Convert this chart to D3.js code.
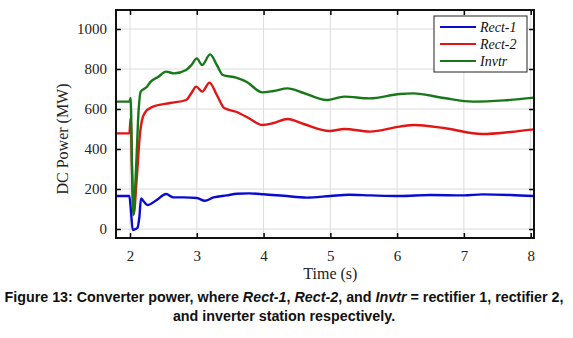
<!DOCTYPE html>
<html>
<head>
<meta charset="utf-8">
<script src="https://cdn.jsdelivr.net/npm/d3@7"></script>
<style>
  body { margin: 0; background: #fff; }
  svg { display: block; }
</style>
</head>
<body>
<svg width="573" height="338"></svg>
<script>
// series (time in s, power in MW)
var rect1Time  = [1.79, 1.99, 2.015, 2.04, 2.08, 2.11, 2.14, 2.165, 2.2, 2.26, 2.4, 2.54, 2.65, 2.8, 3.0, 3.12, 3.25, 3.45, 3.6, 3.78, 4.0, 4.3, 4.65, 5.0, 5.28, 5.6, 6.04, 6.5, 7.0, 7.28, 7.7, 8.05];
var rect1Power = [165, 165, 87, -5, 0, 5, 60, 153, 140, 120, 145, 175, 158, 158, 155, 141, 158, 168, 176, 178, 174, 166, 157, 165, 171, 168, 165, 170, 168, 173, 170, 165];

var rect2Time  = [1.79, 1.99, 2.01, 2.03, 2.055, 2.1, 2.15, 2.18, 2.22, 2.33, 2.6, 2.84, 2.92, 2.99, 3.08, 3.19, 3.3, 3.41, 3.6, 3.8, 3.98, 4.15, 4.36, 4.6, 4.99, 5.21, 5.59, 6.04, 6.26, 6.7, 7.28, 7.7, 8.05];
var rect2Power = [478, 478, 555, 300, 75, 250, 480, 545, 580, 610, 630, 645, 680, 712, 687, 732, 670, 605, 585, 550, 520, 530, 550, 525, 490, 500, 487, 512, 520, 505, 475, 485, 498];

var invtrTime  = [1.79, 1.99, 2.01, 2.03, 2.05, 2.09, 2.13, 2.16, 2.25, 2.31, 2.42, 2.54, 2.66, 2.84, 2.92, 3.0, 3.08, 3.2, 3.3, 3.39, 3.59, 3.75, 3.98, 4.15, 4.36, 4.6, 4.94, 5.21, 5.59, 6.04, 6.24, 6.7, 7.13, 7.6, 8.05];
var invtrPower = [637, 637, 655, 300, 70, 300, 600, 687, 710, 737, 760, 787, 778, 795, 820, 853, 820, 873, 820, 770, 757, 735, 683, 690, 703, 680, 645, 662, 653, 675, 678, 655, 637, 643, 657];

var seriesNames  = ['Rect-1', 'Rect-2', 'Invtr'];
var seriesColors = ['#0a0ad2', '#e31414', '#187818'];
var xTicks = [2, 3, 4, 5, 6, 7, 8];
var yTicks = [0, 200, 400, 600, 800, 1000];

var svg = d3.select("svg"),
    margin = {top: 10, right: 39, bottom: 100, left: 116},
    width = +svg.attr('width') - margin.left - margin.right,
    height = +svg.attr('height') - margin.top - margin.bottom;

var x = d3.scaleLinear().domain([1.79, 8.05]).range([0, width]),
    y = d3.scaleLinear().domain([-45, 1095]).range([height, 0]);

var g = svg.append('g')
    .attr('transform', 'translate(' + margin.left + ',' + margin.top + ')');

// grid
g.append('g').selectAll('line').data(xTicks).enter().append('line')
    .attr('x1', d => x(d)).attr('x2', d => x(d))
    .attr('y1', 0).attr('y2', height)
    .style('stroke', '#dcdcdc').style('stroke-width', 1);
g.append('g').selectAll('line').data(yTicks).enter().append('line')
    .attr('x1', 0).attr('x2', width)
    .attr('y1', d => y(d)).attr('y2', d => y(d))
    .style('stroke', '#dcdcdc').style('stroke-width', 1);

// lines
var data = [
    rect1Time.map((t, i) => [t, rect1Power[i]]),
    rect2Time.map((t, i) => [t, rect2Power[i]]),
    invtrTime.map((t, i) => [t, invtrPower[i]])
];
var line = d3.line()
    .x(d => x(d[0]))
    .y(d => y(d[1]))
    .curve(d3.curveMonotoneX);

g.append('defs').append('clipPath').attr('id', 'clip')
    .append('rect').attr('width', width).attr('height', height);

g.append('g').attr('clip-path', 'url(#clip)')
    .selectAll('path').data(data).enter().append('path')
    .attr('d', line)
    .style('fill', 'none')
    .style('stroke', (d, i) => seriesColors[i])
    .style('stroke-width', 2.4)
    .style('stroke-linejoin', 'round');

// axes, ticks pointing inward on all four sides
function styleAxis(sel) {
    sel.select('.domain').remove();
    sel.selectAll('.tick line').style('stroke', '#000').style('stroke-width', 1.5);
    sel.selectAll('.tick text')
        .style('font-family', '"Liberation Serif", "Times New Roman", serif')
        .style('font-size', '15px')
        .style('fill', '#222');
}
g.append('g')
    .attr('transform', 'translate(0,' + height + ')')
    .call(d3.axisBottom(x).tickValues(xTicks).tickSize(-5).tickPadding(12).tickFormat(d3.format('d')))
    .call(styleAxis);
g.append('g')
    .call(d3.axisLeft(y).tickValues(yTicks).tickSize(-5).tickPadding(9).tickFormat(d3.format('d')))
    .call(styleAxis);
g.append('g')
    .call(d3.axisTop(x).tickValues(xTicks).tickSize(-5).tickFormat(''))
    .call(styleAxis);
g.append('g')
    .attr('transform', 'translate(' + width + ',0)')
    .call(d3.axisRight(y).tickValues(yTicks).tickSize(-5).tickFormat(''))
    .call(styleAxis);

g.append('rect')
    .attr('width', width).attr('height', height)
    .style('fill', 'none').style('stroke', '#111').style('stroke-width', 2);

// axis titles
g.append('text')
    .attr('x', x(5))
    .attr('y', height + 41)
    .attr('text-anchor', 'middle')
    .style('font-family', '"Liberation Serif", "Times New Roman", serif')
    .style('font-size', '16px')
    .style('fill', '#222')
    .text('Time (s)');

g.append('text')
    .attr('transform', 'rotate(-90)')
    .attr('x', -(y(450)))
    .attr('y', -48)
    .attr('text-anchor', 'middle')
    .style('font-family', '"Liberation Serif", "Times New Roman", serif')
    .style('font-size', '16px')
    .style('fill', '#222')
    .text('DC Power (MW)');

// legend
var leg = g.append('g').attr('transform', 'translate(318,6)');
leg.append('rect')
    .attr('width', 93).attr('height', 56)
    .style('fill', '#fff').style('stroke', '#222').style('stroke-width', 1);
seriesNames.forEach(function(name, i) {
    var ly = 11 + i * 17;
    leg.append('line')
        .attr('x1', 6).attr('x2', 42).attr('y1', ly).attr('y2', ly)
        .style('stroke', seriesColors[i]).style('stroke-width', 2);
    leg.append('text')
        .attr('x', 46).attr('y', ly + 5)
        .style('font-family', '"Liberation Serif", "Times New Roman", serif')
        .style('font-style', 'italic')
        .style('font-size', '14px')
        .style('fill', '#111')
        .text(name);
});

// caption
var cap = svg.append('text')
    .attr('x', 284).attr('y', 302)
    .attr('text-anchor', 'middle')
    .style('font-family', '"Liberation Sans", Arial, sans-serif')
    .style('font-weight', 'bold')
    .style('font-size', '14.3px')
    .style('fill', '#111');
[['Figure 13: Converter power, where ', false], ['Rect-1', true], [', ', false], ['Rect-2', true],
 [', and ', false], ['Invtr', true], [' = rectifier 1, rectifier 2,', false]].forEach(function(p) {
    cap.append('tspan').style('font-style', p[1] ? 'italic' : 'normal').text(p[0]);
});
svg.append('text')
    .attr('x', 284).attr('y', 321)
    .attr('text-anchor', 'middle')
    .style('font-family', '"Liberation Sans", Arial, sans-serif')
    .style('font-weight', 'bold')
    .style('font-size', '14.3px')
    .style('fill', '#111')
    .text('and inverter station respectively.');
</script>
</body>
</html>
